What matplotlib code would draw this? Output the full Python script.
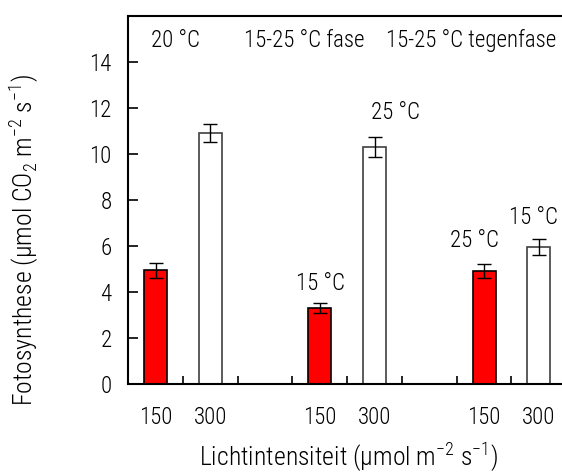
import numpy as np
import matplotlib
matplotlib.use('Agg')
import matplotlib.pyplot as plt
from matplotlib.ticker import FixedLocator

plt.rcParams['font.family'] = ['Roboto Condensed', 'DejaVu Sans']
plt.rcParams['font.weight'] = 'light'
plt.rcParams['mathtext.fontset'] = 'custom'
plt.rcParams['mathtext.rm'] = 'Roboto Condensed:light'

# data
positions = [0, 1, 3, 4, 6, 7]
tick_labels = ['150', '300', '150', '300', '150', '300']
values = [4.95, 10.9, 3.29, 10.29, 4.9, 5.94]
errors = [0.33, 0.39, 0.21, 0.44, 0.31, 0.35]
colors = ['red', 'white', 'red', 'white', 'red', 'white']
edges = ['black', '#404040', 'black', '#404040', 'black', '#404040']
group_titles = ['20 °C', '15-25 °C fase', '15-25 °C tegenfase']
group_x = [0.36, 2.72, 5.77]
bar_notes = ['15 °C', '25 °C', '25 °C', '15 °C']
note_x = [3.02, 4.39, 5.82, 6.91]
note_y = [4.36, 11.79, 6.23, 7.24]

fs = 16.5

fig = plt.figure(figsize=(5.62, 4.73), dpi=100)
ax = fig.add_axes([0.2283, 0.1882, 0.779, 0.778])

ax.bar(positions, values, width=0.42, color=colors, edgecolor=edges, linewidth=1.2, zorder=2)
ax.errorbar(positions, values, yerr=errors, fmt='none', ecolor='black',
            elinewidth=1.0, capsize=5, capthick=1.0, zorder=3)

ax.set_xlim(-0.5, 7.5)
ax.set_ylim(0, 16)
ax.set_yticks(np.arange(0, 15, 2))
ax.set_xticks(positions)
ax.set_xticklabels(tick_labels)
ax.xaxis.set_minor_locator(FixedLocator([0.5, 1.5, 2.5, 3.5, 4.5, 5.5, 6.5]))
ax.tick_params(axis='x', which='major', length=0, pad=16, labelsize=fs)
ax.tick_params(axis='x', which='minor', direction='in', length=6, width=1.2)
ax.tick_params(axis='y', direction='in', length=7, width=1.2, pad=12, labelsize=fs)

for s in ['left', 'bottom', 'top']:
    ax.spines[s].set_linewidth(1.5)
ax.spines['right'].set_visible(False)

for t, x in zip(group_titles, group_x):
    ax.text(x, 14.93, t, ha='center', va='center', fontsize=fs)
for t, x, y in zip(bar_notes, note_x, note_y):
    ax.text(x, y, t, ha='center', va='center', fontsize=fs)

fig.text(349 / 562, 1 - 457 / 473, r'Lichtintensiteit (µmol m$^{\mathregular{-2}}$ s$^{\mathregular{-1}}$)',
         ha='center', va='center', fontsize=18.5)
fig.text(24 / 562, 1 - 240 / 473, r'Fotosynthese (µmol CO$_{\mathregular{2}}$ m$^{\mathregular{-2}}$ s$^{\mathregular{-1}}$)',
         ha='center', va='center', rotation=90, fontsize=18.5)

fig.savefig('out.png', dpi=100)
